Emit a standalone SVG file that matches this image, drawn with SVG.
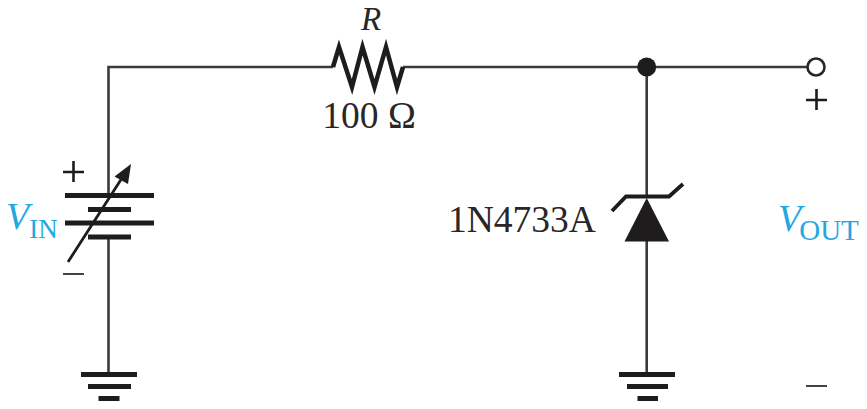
<svg xmlns="http://www.w3.org/2000/svg" width="867" height="409" viewBox="0 0 867 409">
<style>
.w{fill:none;stroke:#3a3a3a;stroke-width:2.6}
.p{fill:none;stroke:#1f1c1d;stroke-width:5}
.s{fill:none;stroke:#1f1c1d;stroke-width:2.6}
.t{font-family:"Liberation Serif",serif;fill:#2a2627}
.b{font-family:"Liberation Serif",serif;fill:#22a8e0}
.i{font-style:italic}
</style>
<rect width="867" height="409" fill="#fff"/>
<g id="connectors">
<path class="w" d="M108.5 195V67H333"/>
<path class="w" d="M108.5 237V373"/>
<path class="w" d="M403 67H807"/>
<path class="w" d="M646.7 67V197"/>
<path class="w" d="M646.7 241V373"/>
</g>
<g id="resistor">
<path d="M333 67L339 47L352 87L362.500 47L374.500 87L386 47L397 87L403 67" fill="none" stroke="#1f1c1d" stroke-width="4.500" stroke-linejoin="miter"/>
<text class="t i" x="371" y="30" font-size="33" text-anchor="middle">R</text>
<text class="t" x="369" y="128" font-size="37.500" text-anchor="middle">100 Ω</text>
</g>
<g id="battery">
<path class="p" d="M65 195.500H154M88 209.500H131"/>
<path class="p" d="M65 223H154M88 237H131" />
<path d="M68 262L122 178" fill="none" stroke="#1f1c1d" stroke-width="2.800"/>
<path d="M131 164L114.500 176.500L128 184Z" fill="#1f1c1d"/>
<path class="s" d="M63 172H84M73.500 161V182"/>
<path d="M63 274H84" fill="none" stroke="#444" stroke-width="2"/>
<text class="b" x="6" y="229" font-size="38"><tspan class="i">V</tspan><tspan font-size="27" dy="9" dx="0">IN</tspan></text>
</g>
<g id="ground-left">
<path class="p" d="M81 374.500H137M88 386.500H131M98.500 398.500H119.500"/>
</g>
<g id="node-junction"><circle cx="646.700" cy="67" r="9.500" fill="#1f1c1d"/></g>
<g id="zener">
<path d="M612 211L626 196.500H669L683 184" fill="none" stroke="#1f1c1d" stroke-width="3.800"/>
<path d="M646.700 198L669 241.500H624.500Z" fill="#1f1c1d"/>
<text class="t" x="448" y="232" font-size="37.500">1N4733A</text>
</g>
<g id="ground-right">
<path class="p" d="M619 374.500H675M627 386.500H668M637.500 398.500H658"/>
</g>
<g id="output">
<circle cx="816" cy="67" r="8.500" fill="#fff" stroke="#2a2627" stroke-width="2.600"/>
<path class="s" d="M806 100H827M816.500 89V110"/>
<path d="M806 386H827" fill="none" stroke="#444" stroke-width="2"/>
<text class="b" x="778" y="231" font-size="38"><tspan class="i">V</tspan><tspan font-size="29" dy="9" dx="-2">OUT</tspan></text>
</g>
</svg>
